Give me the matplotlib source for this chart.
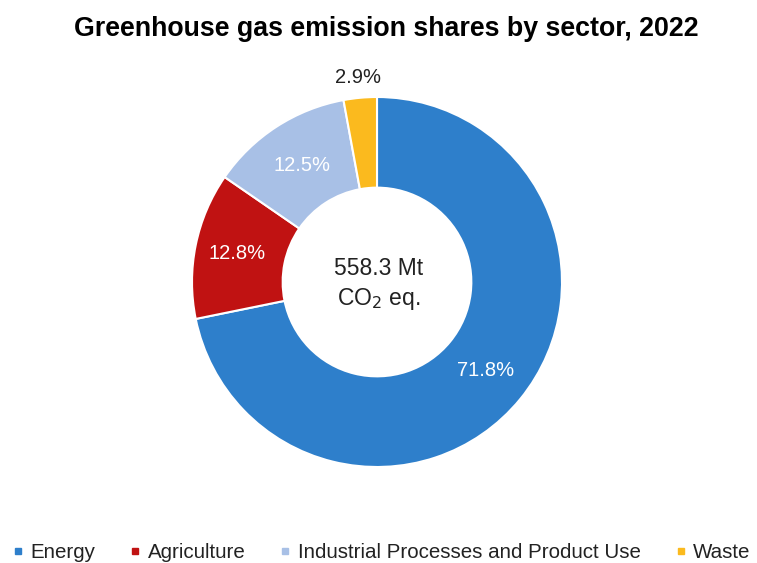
import numpy as np
import matplotlib.pyplot as plt
from matplotlib.lines import Line2D

plt.rcParams['font.family'] = ['Liberation Sans', 'DejaVu Sans']

sectors = ['Energy', 'Agriculture', 'Industrial Processes and Product Use', 'Waste']
shares = [71.8, 12.8, 12.5, 2.9]
colors = ['#2E7FCB', '#C01212', '#A8C0E6', '#FBBA1E']
total_label = '558.3 Mt\nCO$_2$ eq.'

fig = plt.figure(figsize=(7.57, 5.63), dpi=100)
ax = fig.add_axes([192 / 757, 96 / 563, 370 / 757, 370 / 563])

wedges, _ = ax.pie(shares, colors=colors, startangle=90, counterclock=False,
                   radius=1.0, wedgeprops=dict(width=0.49, edgecolor='white', linewidth=1.5))
ax.set_xlim(-1, 1)
ax.set_ylim(-1, 1)
ax.set_aspect('equal')
ax.axis('off')

# percentage labels, placed along each wedge
label_r = [0.76, 0.77, 0.75, 1.11]
label_col = ['white', 'white', 'white', '#222222']
for w, s, r, c in zip(wedges, shares, label_r, label_col):
    ang = np.deg2rad((w.theta1 + w.theta2) / 2)
    ax.text(r * np.cos(ang), r * np.sin(ang), f'{s}%', ha='center', va='center',
            fontsize=14.5, color=c)

ax.text(0.01, -0.015, total_label, ha='center', va='center', fontsize=16.5,
        color='#222222', linespacing=1.3)

fig.text(386 / 757, 1 - 36 / 563, 'Greenhouse gas emission shares by sector, 2022',
         ha='center', va='baseline', fontsize=19.3, fontweight='bold', color='black')

handles = [Line2D([], [], marker='s', linestyle='none', markersize=4,
                  markerfacecolor=c, markeredgecolor=c) for c in colors]
fig.legend(handles, sectors, loc='center', bbox_to_anchor=(381 / 757, 10.5 / 563), ncol=4,
           frameon=False, fontsize=14.8, handlelength=0.6, handletextpad=0.3,
           columnspacing=1.65, labelcolor='#222222', borderpad=0, borderaxespad=0)

fig.savefig('out.png', dpi=100)
